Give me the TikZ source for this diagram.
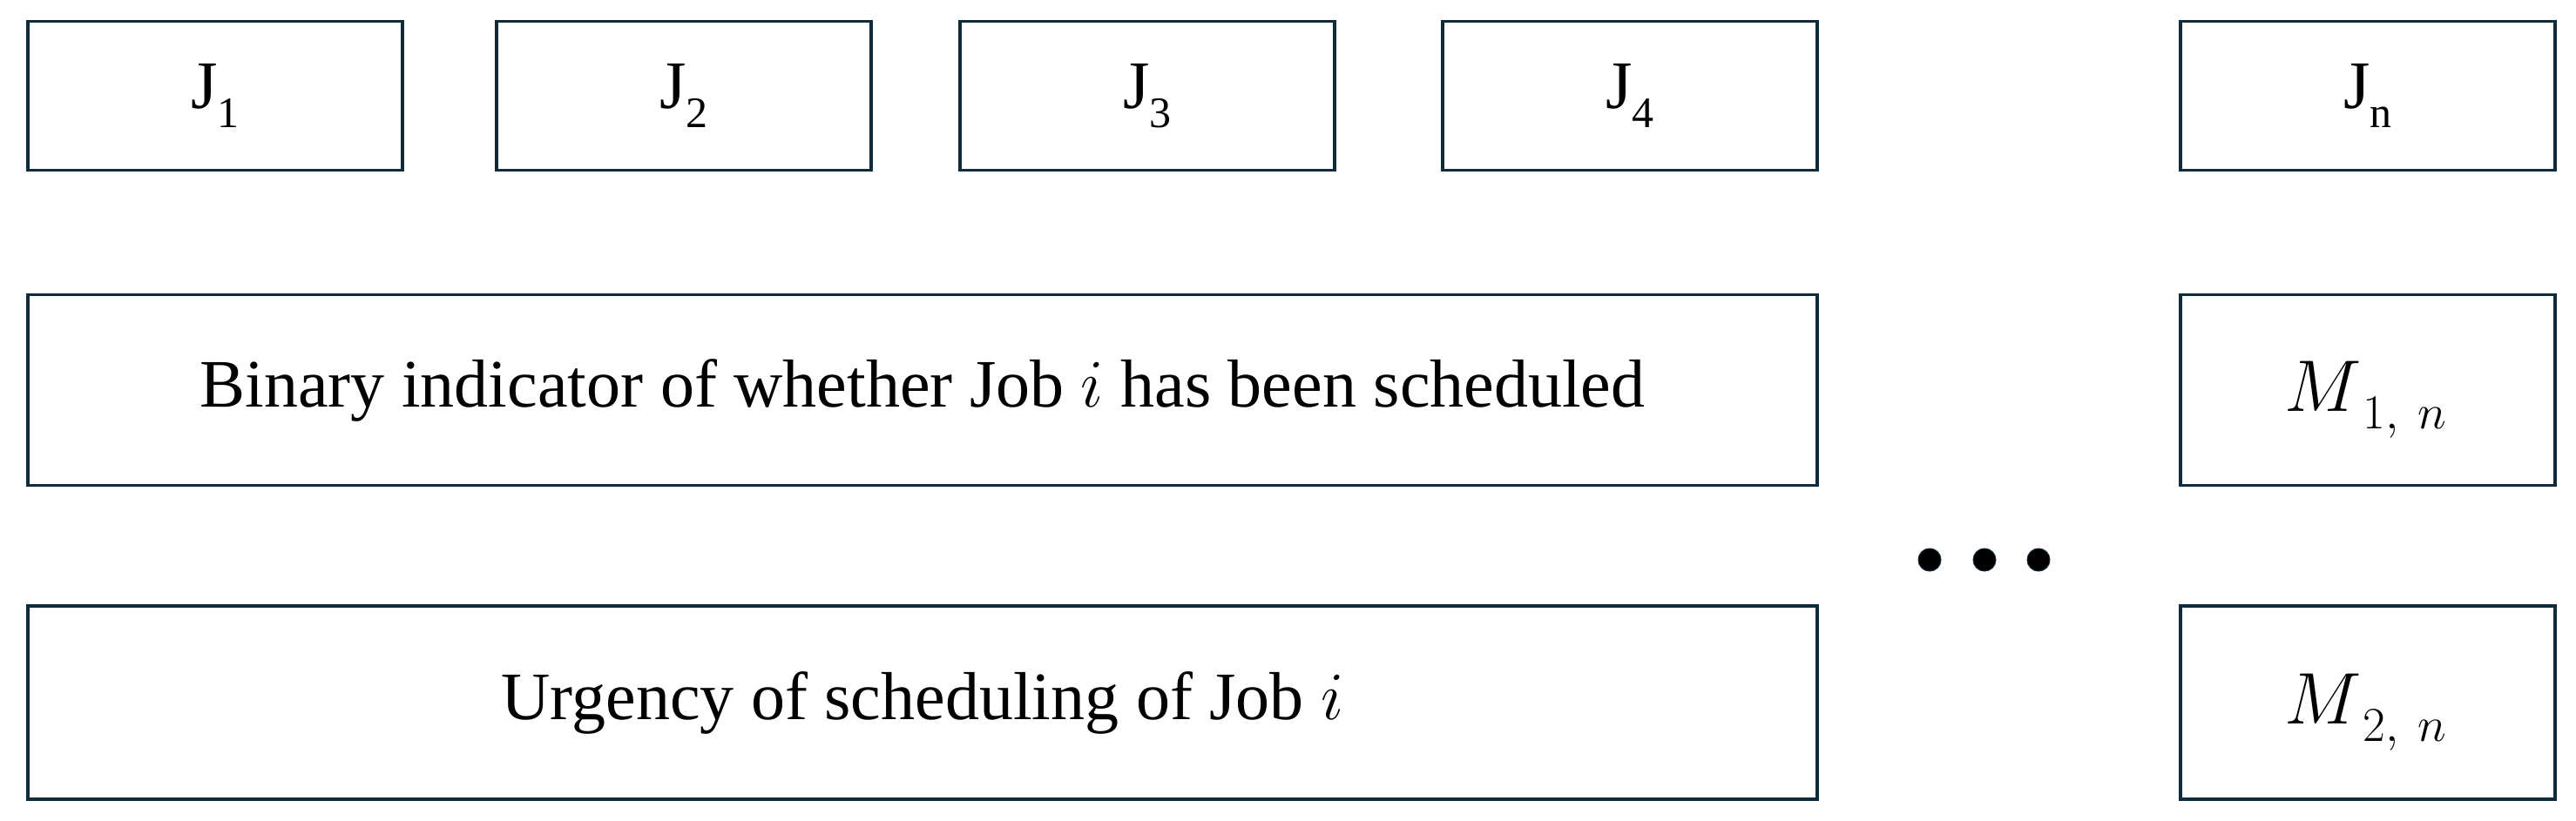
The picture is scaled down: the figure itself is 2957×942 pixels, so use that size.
\RequirePackage{fix-cm}
\documentclass[tikz,border=0pt]{standalone}
\usepackage{fontspec}
\setmainfont{Liberation Serif}
\definecolor{boxline}{HTML}{0F2B3C}
\newcommand{\jsub}[1]{\raisebox{-0.28em}{\fontsize{50}{50}\selectfont #1}}
\newcommand{\mlabel}[1]{{\fontsize{84}{90}\selectfont$M$}\kern2pt\raisebox{-20pt}{\fontsize{56}{56}\selectfont$#1,\hspace{0.22em}n$}}
\begin{document}
\begin{tikzpicture}[x=1pt,y=-1pt,
  cell/.style={draw=boxline,line width=3.2pt,fill=white,inner sep=0pt,font=\fontsize{78}{90}\selectfont},
  jbox/.style={cell,minimum width=430pt,minimum height=171pt},
  rowbox/.style={cell,minimum width=2054pt,minimum height=219pt},
  mbox/.style={cell,minimum width=430pt,minimum height=219pt},
  dot/.style={circle,fill=black,draw=boxline,line width=1pt,minimum size=26pt,inner sep=0pt}]
\useasboundingbox (0,0) rectangle (2957,942);
\node[jbox] (j1) at (247,110) {J\jsub{1}};
\node[jbox] (j2) at (785,110) {J\jsub{2}};
\node[jbox] (j3) at (1317,110) {J\jsub{3}};
\node[jbox] (j4) at (1871,110) {J\jsub{4}};
\node[jbox] (jn) at (2718,110) {J\jsub{n}};
\node[rowbox] (r1) at (1059,448) {Binary indicator of whether Job $i$ has been scheduled};
\node[mbox] (m1) at (2718,448) {};
\node (m1t) at (2715,459) {\mlabel{1}};
\node[rowbox,minimum height=222pt] (r2) at (1059,807) {Urgency of scheduling of Job $i$};
\node[mbox,minimum height=222pt] (m2) at (2718,807) {};
\node (m2t) at (2715,818) {\mlabel{2}};
\node[dot] (d1) at (2215,643) {};
\node[dot] (d2) at (2278,643) {};
\node[dot] (d3) at (2340,643) {};
\end{tikzpicture}
\end{document}
